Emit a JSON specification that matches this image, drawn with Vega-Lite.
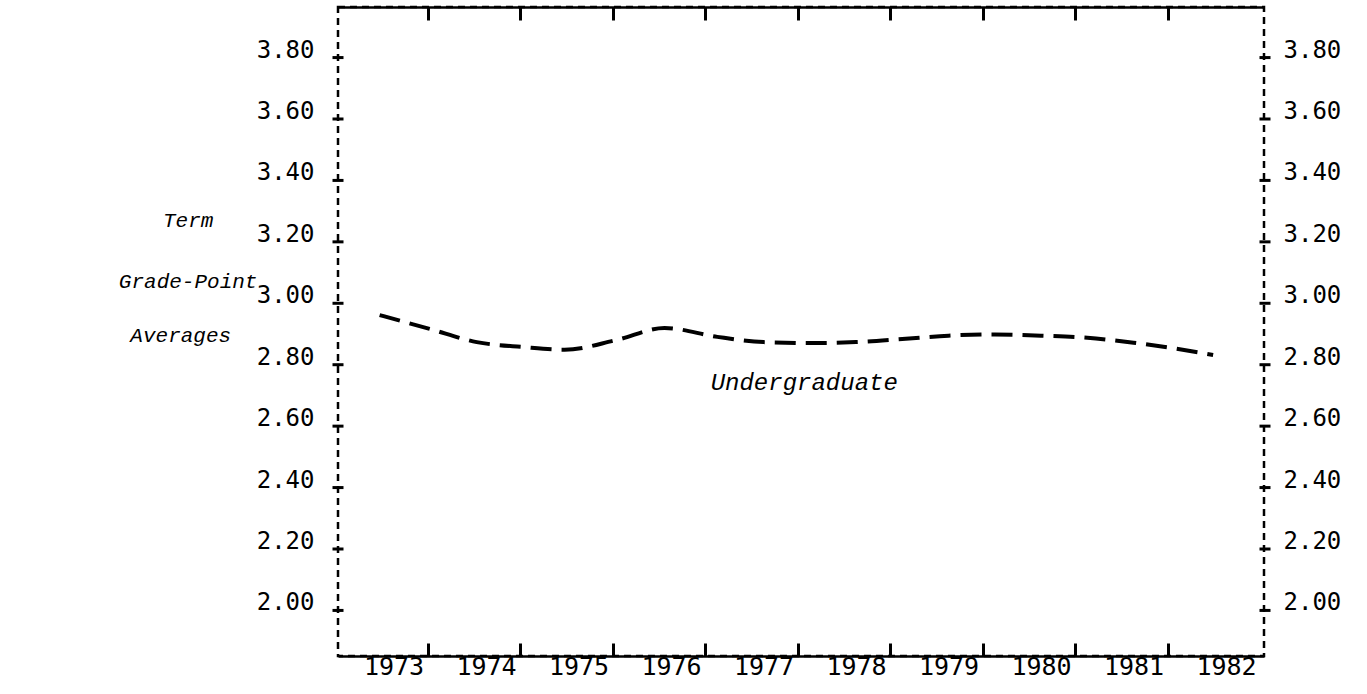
{
  "$schema": "https://vega.github.io/schema/vega-lite/v6.json",
  "width": 926,
  "height": 649,
  "autosize": {"type": "none"},
  "padding": {"left": 338, "top": 7, "right": 103, "bottom": 38},
  "background": "white",
  "config": {
    "view": {"stroke": "black", "strokeWidth": 2.5, "strokeDash": [7, 5]},
    "axis": {"grid": false}
  },
  "datasets": {
    "gpa": [
      {"year": 1972.85, "gpa": 2.960},
      {"year": 1973.39, "gpa": 2.915},
      {"year": 1973.90, "gpa": 2.872},
      {"year": 1974.40, "gpa": 2.856},
      {"year": 1974.85, "gpa": 2.847},
      {"year": 1975.40, "gpa": 2.878},
      {"year": 1975.93, "gpa": 2.918},
      {"year": 1976.50, "gpa": 2.889},
      {"year": 1977.00, "gpa": 2.872},
      {"year": 1977.50, "gpa": 2.869},
      {"year": 1978.00, "gpa": 2.872},
      {"year": 1978.50, "gpa": 2.882},
      {"year": 1979.00, "gpa": 2.893},
      {"year": 1979.50, "gpa": 2.897},
      {"year": 1980.00, "gpa": 2.893},
      {"year": 1980.50, "gpa": 2.886},
      {"year": 1981.00, "gpa": 2.870},
      {"year": 1981.45, "gpa": 2.851},
      {"year": 1981.86, "gpa": 2.830}
    ],
    "titles": [
      {"label": "Term", "year": 1970.78, "gpa": 3.247},
      {"label": "Grade-Point", "year": 1970.78, "gpa": 3.048},
      {"label": "Averages", "year": 1970.70, "gpa": 2.872}
    ],
    "series": [
      {"label": "Undergraduate", "year": 1977.44, "gpa": 2.716}
    ]
  },
  "layer": [
    {
      "data": {"name": "gpa"},
      "mark": {"type": "line", "color": "black", "strokeWidth": 4, "strokeDash": [21, 10], "interpolate": "monotone"},
      "encoding": {
        "x": {
          "field": "year", "type": "quantitative",
          "scale": {"domain": [1972.4, 1982.41], "nice": false, "zero": false},
          "axis": {
            "orient": "bottom", "title": null,
            "values": [1973, 1974, 1975, 1976, 1977, 1978, 1979, 1980, 1981, 1982],
            "format": "d",
            "domain": true, "domainColor": "black", "domainWidth": 2.5,
            "ticks": true, "tickSize": -13, "tickOffset": 34, "tickWidth": 3, "tickColor": "black",
            "tickOpacity": {"condition": {"test": "datum.value == 1982", "value": 0}, "value": 1},
            "labelOffset": -34,
            "labelFont": "DejaVu Sans Mono", "labelFontSize": 25, "labelColor": "black",
            "labelPadding": 11, "labelFlush": false, "labelOverlap": false
          }
        },
        "y": {
          "field": "gpa", "type": "quantitative",
          "scale": {"domain": [1.85, 3.963], "nice": false, "zero": false},
          "axis": {
            "orient": "left", "title": null,
            "values": [2.0, 2.2, 2.4, 2.6, 2.8, 3.0, 3.2, 3.4, 3.6, 3.8],
            "format": ".2f",
            "domain": false, "offset": -5,
            "ticks": true, "tickSize": 11, "tickWidth": 3, "tickColor": "black", "tickOpacity": 1, "tickRound": false,
            "labelBaseline": "alphabetic",
            "labelFont": "DejaVu Sans Mono", "labelFontSize": 24, "labelColor": "black",
            "labelPadding": 18, "labelOverlap": false
          }
        }
      }
    },
    {
      "data": {"name": "titles"},
      "mark": {"type": "text", "font": "Liberation Mono", "fontStyle": "italic", "fontSize": 21, "color": "black", "align": "center", "baseline": "alphabetic"},
      "encoding": {
        "text": {"field": "label"},
        "x": {
          "field": "year", "type": "quantitative",
          "scale": {"domain": [1972.4, 1982.41], "nice": false, "zero": false},
          "axis": {
            "orient": "top", "title": null,
            "values": [1973, 1974, 1975, 1976, 1977, 1978, 1979, 1980, 1981],
            "labels": false,
            "domain": true, "domainColor": "black", "domainWidth": 2.5,
            "tickSize": -13, "tickOffset": 34, "tickWidth": 3, "tickColor": "black"
          }
        },
        "y": {
          "field": "gpa", "type": "quantitative",
          "scale": {"domain": [1.85, 3.963], "nice": false, "zero": false},
          "axis": {
            "orient": "right", "title": null,
            "values": [2.0, 2.2, 2.4, 2.6, 2.8, 3.0, 3.2, 3.4, 3.6, 3.8],
            "format": ".2f",
            "domain": false, "offset": -5,
            "ticks": true, "tickSize": 11, "tickWidth": 3, "tickColor": "black", "tickOpacity": 1, "tickRound": false,
            "labelBaseline": "alphabetic",
            "labelFont": "DejaVu Sans Mono", "labelFontSize": 24, "labelColor": "black",
            "labelPadding": 13, "labelOverlap": false
          }
        }
      }
    },
    {
      "data": {"name": "series"},
      "mark": {"type": "text", "font": "Liberation Mono", "fontStyle": "italic", "fontSize": 24, "color": "black", "align": "center", "baseline": "alphabetic"},
      "encoding": {
        "text": {"field": "label"},
        "x": {
          "field": "year", "type": "quantitative",
          "scale": {"domain": [1972.4, 1982.41], "nice": false, "zero": false},
          "axis": null
        },
        "y": {
          "field": "gpa", "type": "quantitative",
          "scale": {"domain": [1.85, 3.963], "nice": false, "zero": false},
          "axis": null
        }
      }
    }
  ],
  "resolve": {"axis": {"x": "independent", "y": "independent"}}
}
